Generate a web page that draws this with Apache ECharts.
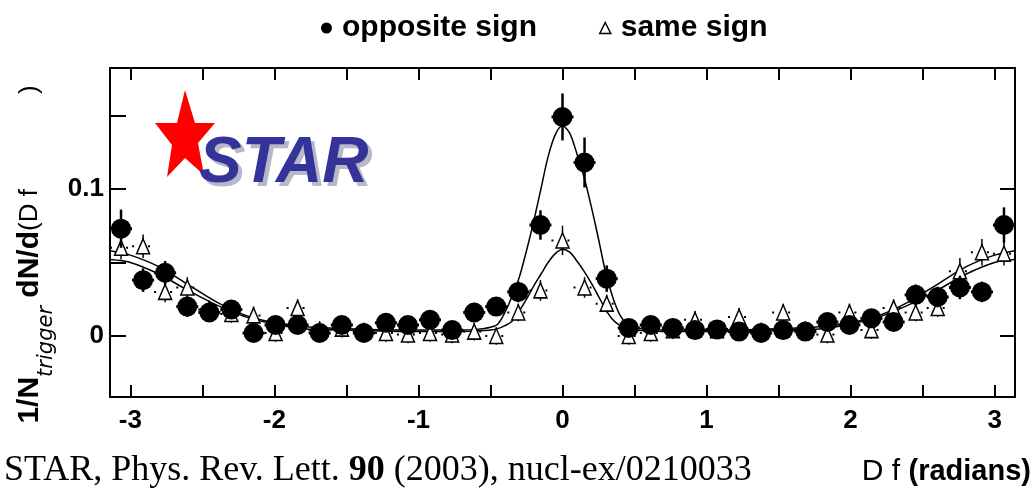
<!DOCTYPE html>
<html>
<head>
<meta charset="utf-8">
<script src="https://cdn.jsdelivr.net/npm/echarts@6/dist/echarts.min.js"></script>
<style>
html,body{margin:0;padding:0;background:#fff;}
#chart{width:1034px;height:498px;}
</style>
</head>
<body>
<div id="chart"></div>
<script>
// Bin centres (radians)
const xBins = [-3.065,-2.912,-2.759,-2.605,-2.452,-2.299,-2.145,-1.992,-1.839,-1.686,-1.532,-1.379,-1.226,-1.073,-0.920,-0.766,-0.613,-0.460,-0.307,-0.153,0,0.153,0.307,0.460,0.613,0.766,0.920,1.073,1.226,1.379,1.532,1.686,1.839,1.992,2.145,2.299,2.452,2.605,2.759,2.912,3.065];
// opposite sign (filled)
const oppVals = [0.073,0.038,0.043,0.020,0.016,0.018,0.002,0.0075,0.0075,0.002,0.0075,0.002,0.009,0.0075,0.011,0.004,0.016,0.020,0.030,0.0755,0.149,0.118,0.039,0.0055,0.0075,0.0055,0.004,0.0045,0.003,0.002,0.004,0.003,0.0095,0.0075,0.012,0.0095,0.028,0.0265,0.033,0.030,0.0755];
const oppErr = [0.013,0.008,0.008,0.007,0.006,0.006,0.006,0.006,0.006,0.006,0.006,0.006,0.006,0.006,0.006,0.006,0.006,0.006,0.007,0.010,0.016,0.017,0.009,0.006,0.006,0.006,0.006,0.006,0.006,0.006,0.006,0.006,0.006,0.006,0.006,0.006,0.007,0.007,0.008,0.007,0.012];
// same sign (open triangles)
const sameVals = [0.060,0.061,0.030,0.033,0.018,0.015,0.014,0.002,0.019,0.004,0.005,0.003,0.002,0.001,0.002,0.001,0.003,0.000,0.016,0.031,0.065,0.033,0.022,0.000,0.002,0.004,0.011,0.004,0.013,0.003,0.016,0.004,0.001,0.016,0.004,0.019,0.016,0.019,0.044,0.057,0.056];
const sameErr = [0.008,0.008,0.007,0.007,0.006,0.006,0.006,0.006,0.006,0.006,0.006,0.006,0.006,0.006,0.006,0.006,0.006,0.006,0.006,0.007,0.010,0.007,0.006,0.006,0.006,0.006,0.006,0.006,0.006,0.006,0.006,0.006,0.006,0.006,0.006,0.006,0.006,0.006,0.009,0.009,0.008];
// fit curves
const fitX = [-3.1416,-3.0,-2.8,-2.6,-2.4,-2.2,-2.0,-1.8,-1.5,-1.0,-0.7,-0.6,-0.5,-0.45,-0.4,-0.35,-0.3,-0.25,-0.2,-0.15,-0.1,-0.05,0,0.05,0.1,0.15,0.2,0.25,0.3,0.35,0.4,0.45,0.5,0.6,0.7,1.0,1.5,1.8,2.0,2.2,2.4,2.6,2.8,3.0,3.1416];
const oppFit = [0.058,0.055,0.047,0.035,0.023,0.014,0.009,0.0065,0.005,0.004,0.004,0.0045,0.006,0.008,0.016,0.027,0.040,0.058,0.078,0.100,0.122,0.137,0.143,0.138,0.124,0.108,0.088,0.066,0.043,0.026,0.014,0.008,0.006,0.0045,0.004,0.004,0.005,0.0065,0.009,0.014,0.023,0.035,0.047,0.055,0.058];
const sameFit = [0.052,0.050,0.042,0.031,0.021,0.013,0.008,0.005,0.004,0.003,0.003,0.0035,0.004,0.005,0.007,0.010,0.017,0.025,0.034,0.042,0.050,0.056,0.059,0.057,0.051,0.044,0.036,0.027,0.018,0.011,0.007,0.005,0.004,0.0035,0.003,0.003,0.004,0.005,0.008,0.013,0.021,0.031,0.042,0.050,0.052];
// ticks
const xTicks = [-3,-2.5,-2,-1.5,-1,-0.5,0,0.5,1,1.5,2,2.5,3];
const xLabels = [-3,-2,-1,0,1,2,3];
const yTicks = [0,0.05,0.1,0.15];
const yLabels = [0,0.1];
const yRightTicks = [0,0.1];

const sans = "'Liberation Sans',Arial,sans-serif";
const halfBin = (xBins[1]-xBins[0])/2;

const oppData = xBins.map((x,i)=>[x, oppVals[i], oppErr[i]]);
const sameData = xBins.map((x,i)=>[x, sameVals[i], sameErr[i]]);

function errRender(dashed, lw){
  return function(params, api){
    const x = api.value(0), y = api.value(1), e = api.value(2);
    const c = api.coord([x,y]);
    const t = api.coord([x,y+e]);
    const b = api.coord([x,y-e]);
    const hw = api.size([halfBin,0])[0];
    return {type:'group', children:[
      {type:'line', shape:{x1:c[0],y1:t[1],x2:c[0],y2:b[1]}, style:{stroke:'#000',lineWidth:lw}},
      {type:'line', shape:{x1:c[0]-hw,y1:c[1],x2:c[0]+hw,y2:c[1]}, style:{stroke:'#000',lineWidth:dashed?2:3,lineDash:dashed?[2,6]:null}}
    ]};
  };
}

const tickStyle = {color:'#000',width:2};
const chart = echarts.init(document.getElementById('chart'));
chart.setOption({
  animation:false,
  backgroundColor:'#fff',
  grid:{left:110,right:19,top:68,bottom:101,containLabel:false,outerBoundsMode:'none',
        show:true,borderColor:'#000',borderWidth:2,backgroundColor:'transparent'},
  legend:{
    left:316, top:8, itemGap:62, itemWidth:11, itemHeight:11,
    textStyle:{fontFamily:sans,fontWeight:'bold',fontSize:30,color:'#000',padding:[0,0,0,5]},
    data:[
      {name:'opposite sign',icon:'circle',itemStyle:{color:'#000'}},
      {name:'same sign',icon:'triangle',itemStyle:{color:'#fff',borderColor:'#000',borderWidth:1.5}}
    ]
  },
  xAxis:[
    {type:'value',position:'bottom',min:-Math.PI,max:Math.PI,
     axisLine:{show:false,onZero:false},splitLine:{show:false},
     axisTick:{show:true,inside:true,length:12,customValues:xTicks,lineStyle:tickStyle},
     axisLabel:{show:true,customValues:xLabels,margin:11,color:'#000',fontFamily:sans,fontWeight:'bold',fontSize:26},
     name:'{n|D f }{b|(radians)}',nameLocation:'end',nameGap:16,
     nameTextStyle:{align:'right',verticalAlign:'top',padding:[60,0,0,0],
       rich:{n:{fontFamily:sans,fontSize:30,color:'#000'},b:{fontFamily:sans,fontWeight:'bold',fontSize:29,color:'#000'}}}
    },
    {type:'value',position:'top',min:-Math.PI,max:Math.PI,
     axisLine:{show:false,onZero:false},splitLine:{show:false},
     axisTick:{show:true,inside:true,length:12,customValues:xTicks,lineStyle:tickStyle},
     axisLabel:{show:false}}
  ],
  yAxis:[
    {type:'value',position:'left',min:-0.0415,max:0.1823,
     axisLine:{show:false,onZero:false},splitLine:{show:false},
     axisTick:{show:true,inside:true,length:16,customValues:yTicks,lineStyle:tickStyle},
     axisLabel:{show:true,customValues:yLabels,margin:6,color:'#000',fontFamily:sans,fontWeight:'bold',fontSize:26,
       formatter:function(v){return v===0?'0':String(v);}},
     name:'{b|1/N}{s|trigger}{b| dN/d}{n|(D f}{g|)}',nameLocation:'middle',nameGap:50,nameRotate:90,
     nameTextStyle:{padding:[0,44,0,0],
       rich:{b:{fontFamily:sans,fontWeight:'bold',fontSize:30,color:'#000'},
             s:{fontFamily:"'DejaVu Sans','Liberation Sans',sans-serif",fontStyle:'italic',fontSize:21,color:'#000',padding:[34,0,0,0]},
             n:{fontFamily:sans,fontSize:26,color:'#000'},
             g:{fontFamily:sans,fontSize:26,color:'#000',padding:[0,0,0,95]}}}
    },
    {type:'value',position:'right',min:-0.0415,max:0.1823,
     axisLine:{show:false,onZero:false},splitLine:{show:false},
     axisTick:{show:true,inside:true,length:15,customValues:yRightTicks,lineStyle:tickStyle},
     axisLabel:{show:false}}
  ],
  graphic:[
    {type:'polygon',z:100,shape:{points:[[185,90],[195,123],[215,123],[198,143],[204,175],[185,158],[167,177],[172,145],[155,123],[177,123]]},style:{fill:'#ff0000'}},
    {type:'text',z:101,left:203,top:136,style:{text:'STAR',font:"italic bold 64px 'Liberation Sans', Arial, sans-serif",fill:'#b8b8c8'}},
    {type:'text',z:102,left:199,top:132,style:{text:'STAR',font:"italic bold 64px 'Liberation Sans', Arial, sans-serif",fill:'#333399'}},
    {type:'text',z:100,left:4,top:453,style:{
      text:'{n|STAR, Phys. Rev. Lett. }{b|90}{n| (2003), nucl-ex/0210033}',
      rich:{n:{fontFamily:"'Liberation Serif','Times New Roman',serif",fontSize:36,fill:'#000'},
            b:{fontFamily:"'Liberation Serif','Times New Roman',serif",fontSize:36,fontWeight:'bold',fill:'#000'}}}}
  ],
  series:[
    {name:'same fit',type:'line',data:fitX.map((x,i)=>[x,sameFit[i]]),smooth:0.3,showSymbol:false,symbol:'none',
     lineStyle:{color:'#000',width:1.5},z:2,silent:true},
    {name:'opposite fit',type:'line',data:fitX.map((x,i)=>[x,oppFit[i]]),smooth:0.3,showSymbol:false,symbol:'none',
     lineStyle:{color:'#000',width:1.5},z:2,silent:true},
    {name:'same err',type:'custom',data:sameData,renderItem:errRender(true,1.5),z:3,silent:true},
    {name:'same sign',type:'scatter',data:sameData,symbol:'triangle',symbolSize:[13,15],
     itemStyle:{color:'#fff',borderColor:'#000',borderWidth:1.5,opacity:1},z:4},
    {name:'opposite err',type:'custom',data:oppData,renderItem:errRender(false,2.5),z:5,silent:true},
    {name:'opposite sign',type:'scatter',data:oppData,symbol:'circle',symbolSize:20,
     itemStyle:{color:'#000',opacity:1},z:6}
  ]
});
</script>
</body>
</html>
